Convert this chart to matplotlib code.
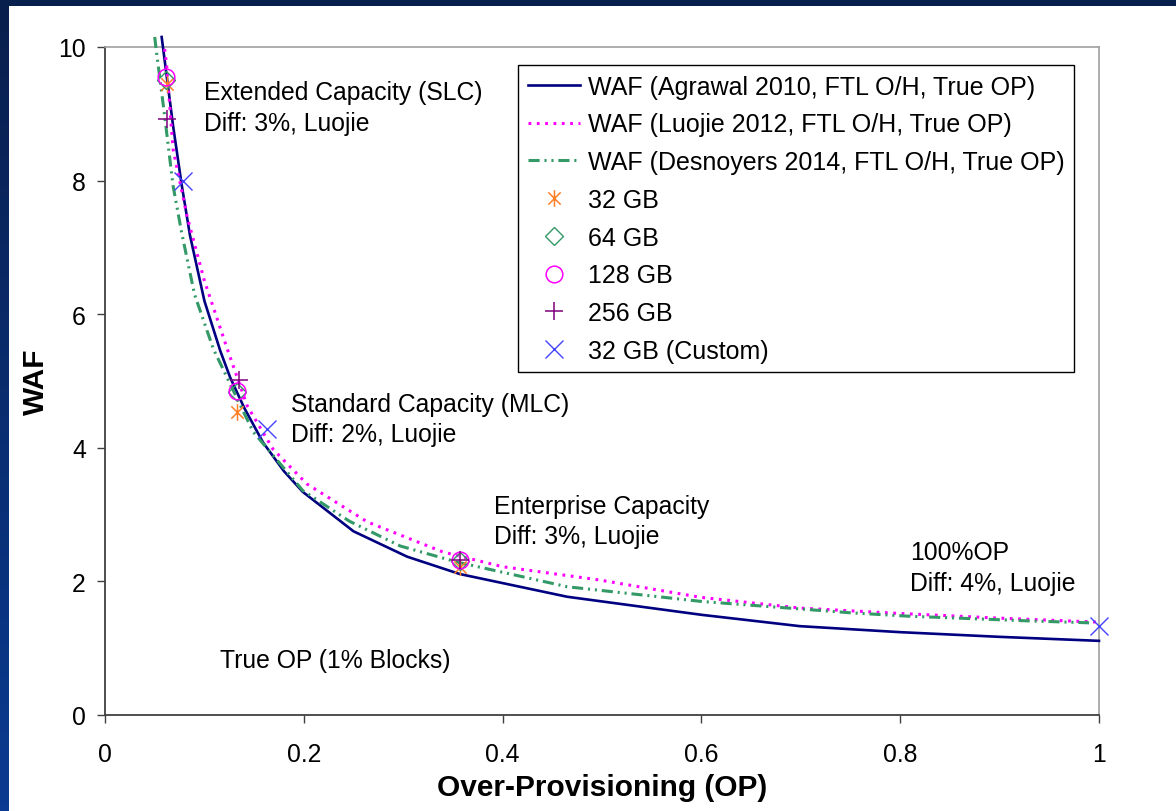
import numpy as np
import matplotlib
matplotlib.use("Agg")
import matplotlib.pyplot as plt
from matplotlib.path import Path

plt.rcParams['font.family'] = ['Liberation Sans', 'DejaVu Sans']
plt.rcParams['lines.scale_dashes'] = False

# curves
agrawal_x = [0.057, 0.0685, 0.077, 0.0855, 0.100, 0.116, 0.126, 0.140, 0.159,
             0.180, 0.199, 0.250, 0.304, 0.357, 0.465, 0.600, 0.699, 0.800,
             0.900, 1.000]
agrawal_y = [10.15, 8.82, 7.95, 7.18, 6.20, 5.45, 5.05, 4.60, 4.08,
             3.65, 3.34, 2.75, 2.37, 2.11, 1.77, 1.50, 1.33, 1.24,
             1.17, 1.11]

luojie_x = [0.060, 0.062, 0.0685, 0.0825, 0.100, 0.123, 0.143, 0.169, 0.203,
            0.264, 0.340, 0.400, 0.498, 0.600, 0.700, 0.800, 0.900, 1.000]
luojie_y = [9.97, 9.72, 8.47, 7.47, 6.50, 5.48, 4.63, 3.98, 3.46,
            2.89, 2.44, 2.22, 2.02, 1.76, 1.60, 1.52, 1.45, 1.39]

desnoyers_x = [0.050, 0.052, 0.060, 0.0685, 0.077, 0.090, 0.109, 0.149, 0.199,
               0.246, 0.297, 0.354, 0.465, 0.600, 0.750, 0.807, 0.927, 0.990]
desnoyers_y = [10.15, 9.90, 8.97, 7.92, 7.23, 6.30, 5.48, 4.24, 3.36,
               2.90, 2.53, 2.29, 1.92, 1.70, 1.53, 1.48, 1.41, 1.38]

# measured points
gb32_x = [0.0624, 0.133, 0.357]
gb32_y = [9.45, 4.53, 2.21]
gb64_x = [0.0614, 0.133, 0.357]
gb64_y = [9.50, 4.83, 2.30]
gb128_x = [0.0614, 0.133, 0.357]
gb128_y = [9.55, 4.85, 2.32]
gb256_x = [0.0624, 0.135, 0.357]
gb256_y = [8.92, 5.02, 2.32]
custom_x = [0.0785, 0.163, 1.000]
custom_y = [8.00, 4.28, 1.33]

x_ticks = [0, 0.2, 0.4, 0.6, 0.8, 1]
x_tick_labels = ['0', '0.2', '0.4', '0.6', '0.8', '1']
y_ticks = [0, 2, 4, 6, 8, 10]

FS = 17.8

fig = plt.figure(figsize=(11.76, 8.12), dpi=100)
fig.patch.set_facecolor('white')

# dark blue slide frame (top and left)
band = fig.add_axes([0, 0, 9 / 1176, 1])
grad = np.linspace(0, 1, 256).reshape(-1, 1)
top_c = np.array([0.035, 0.12, 0.30])
bot_c = np.array([0.04, 0.23, 0.57])
img = top_c + (bot_c - top_c) * grad[:, :, None]
band.imshow(img, aspect='auto', extent=[0, 1, 0, 1])
band.axis('off')
topband = fig.add_axes([0, 1 - 7 / 812, 1, 7 / 812])
topband.set_facecolor('#071f4d')
topband.set_xticks([])
topband.set_yticks([])
for s in topband.spines.values():
    s.set_visible(False)

ax = fig.add_axes([105 / 1176, 96 / 812, 994 / 1176, 668 / 812])

ax.plot(agrawal_x, agrawal_y, color='#000080', lw=1.9,
        label='WAF (Agrawal 2010, FTL O/H, True OP)', clip_on=False, zorder=3)
ax.plot(luojie_x, luojie_y, color='#FF00FF', lw=2.2, ls=(0, (2.0, 4.0)),
        label='WAF (Luojie 2012, FTL O/H, True OP)', zorder=3)
ax.plot(desnoyers_x, desnoyers_y, color='#339966', lw=2.2,
        ls=(0, (8.0, 3.5, 1.5, 3.5, 1.5, 3.5)),
        label='WAF (Desnoyers 2014, FTL O/H, True OP)', clip_on=False, zorder=3)

asterisk = Path([(-1, -1), (1, 1), (-1, 1), (1, -1), (0, -1.35), (0, 1.35)],
                [Path.MOVETO, Path.LINETO, Path.MOVETO, Path.LINETO,
                 Path.MOVETO, Path.LINETO])

ax.plot(gb32_x, gb32_y, ls='none', marker=asterisk, ms=12, mfc='none',
        mec='#FF7F27', mew=1.1, label='32 GB', zorder=4)
ax.plot(gb64_x, gb64_y, ls='none', marker='D', ms=9, mfc='none',
        mec='#339966', mew=1.0, label='64 GB', zorder=4)
ax.plot(gb128_x, gb128_y, ls='none', marker='o', ms=12, mfc='none',
        mec='#FF00FF', mew=1.1, label='128 GB', zorder=4)
ax.plot(gb256_x, gb256_y, ls='none', marker='+', ms=13, mfc='none',
        mec='#800080', mew=1.1, label='256 GB', zorder=4)
ax.plot(custom_x, custom_y, ls='none', marker='x', ms=13, mfc='none',
        mec='#4444FF', mew=1.0, label='32 GB (Custom)', clip_on=False, zorder=4)

ax.set_xlim(0, 1)
ax.set_ylim(0, 10)
ax.set_xticks(x_ticks)
ax.set_xticklabels(x_tick_labels)
ax.set_yticks(y_ticks)
ax.tick_params(axis='both', direction='out', length=5.8, width=1.0,
               colors='#404040', labelcolor='black', labelsize=FS)
ax.tick_params(axis='x', pad=14)
ax.tick_params(axis='y', pad=8)

for side in ['top', 'right']:
    ax.spines[side].set_color('#a0a0a0')
    ax.spines[side].set_linewidth(1.2)
for side in ['left', 'bottom']:
    ax.spines[side].set_color('#404040')
    ax.spines[side].set_linewidth(1.3)

ax.set_xlabel('Over-Provisioning (OP)', fontsize=21.5, fontweight='bold')
ax.set_ylabel('WAF', fontsize=21.5, fontweight='bold')
ax.xaxis.set_label_coords(0.5, -0.087)
ax.yaxis.set_label_coords(-0.055, 0.5)

notes = [
    (0.0996, 0.922, 'Extended Capacity (SLC)'),
    (0.0996, 0.876, 'Diff: 3%, Luojie'),
    (0.187, 0.455, 'Standard Capacity (MLC)'),
    (0.187, 0.410, 'Diff: 2%, Luojie'),
    (0.391, 0.302, 'Enterprise Capacity'),
    (0.391, 0.257, 'Diff: 3%, Luojie'),
    (0.810, 0.233, '100%OP'),
    (0.810, 0.187, 'Diff: 4%, Luojie'),
    (0.116, 0.072, 'True OP (1% Blocks)'),
]
for nx, ny, txt in notes:
    ax.text(nx, ny, txt, transform=ax.transAxes, fontsize=FS,
            ha='left', va='baseline')

leg = ax.legend(loc='upper left', bbox_to_anchor=(518 / 1176, 1 - 66 / 812),
                bbox_transform=fig.transFigure, borderaxespad=0,
                fontsize=18, frameon=True, fancybox=False, framealpha=1,
                edgecolor='black', handlelength=2.1, handletextpad=0.3,
                labelspacing=0.55, borderpad=0.38, numpoints=1)
leg.get_frame().set_linewidth(1.0)

fig.savefig('out.png', dpi=100, facecolor=fig.get_facecolor())
